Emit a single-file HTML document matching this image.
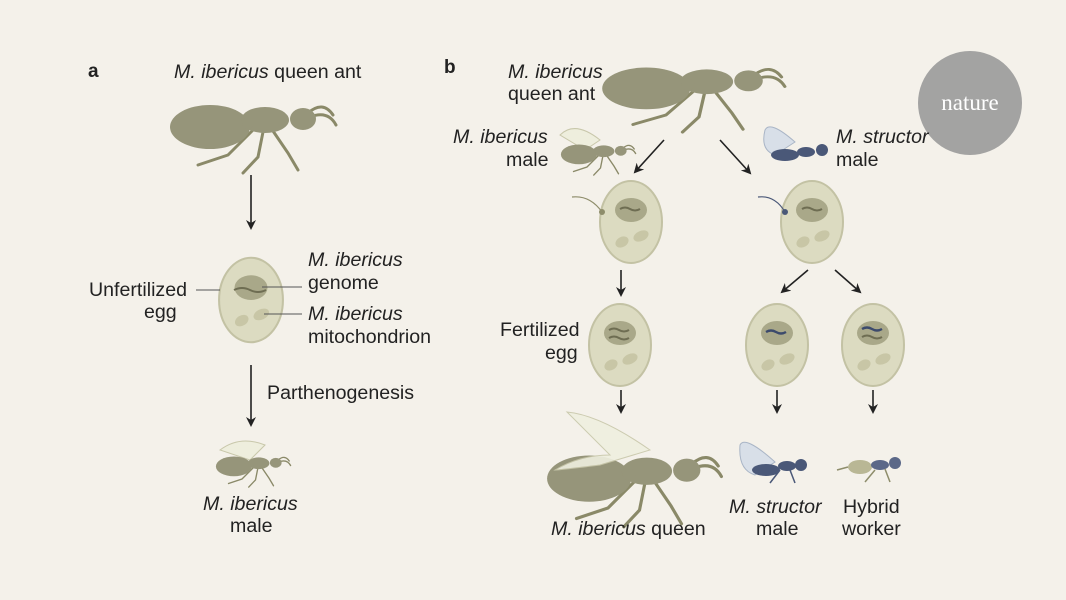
<!DOCTYPE html>
<html><head><meta charset="utf-8"><style>
html,body{margin:0;padding:0;background:#f4f1ea;}
svg{display:block;font-family:"Liberation Sans",sans-serif;}
.t{font-size:19.6px;fill:#222;}
.i{font-style:italic;}
.b{font-weight:bold;font-size:19px;fill:#222;}
</style></head><body>
<svg width="1066" height="600" viewBox="0 0 1066 600" xmlns="http://www.w3.org/2000/svg">
<defs>
<marker id="ah" markerWidth="10" markerHeight="10" refX="8" refY="5" orient="auto" markerUnits="userSpaceOnUse">
<path d="M0,0 L10,5 L0,10 L3,5 Z" fill="#222"/></marker>
<g id="ant">
 <g stroke="#8a8968" stroke-width="3" fill="none" stroke-linecap="round">
  <path d="M85,35 L60,60 L30,70"/><path d="M95,37 L90,62 L75,78"/><path d="M105,36 L120,58 L130,75"/>
  <path d="M140,18 Q155,5 165,20"/><path d="M142,22 Q160,15 168,30"/>
 </g>
 <ellipse cx="42" cy="32" rx="40" ry="22" fill="#96957a"/>
 <ellipse cx="97" cy="25" rx="24" ry="13" fill="#96957a"/>
 <ellipse cx="135" cy="24" rx="13" ry="11" fill="#96957a"/>
 <circle cx="80" cy="28" r="6" fill="#96957a"/>
</g>
<g id="egg">
 <ellipse cx="0" cy="0" rx="31" ry="41" fill="#dcdbc1" stroke="#c3c2a4" stroke-width="2"/>
 <ellipse cx="0" cy="-12" rx="16" ry="12" fill="#a9a889"/>
 <ellipse cx="-9" cy="20" rx="7" ry="5" fill="#c8c6a6" transform="rotate(-30 -9 20)"/>
 <ellipse cx="10" cy="14" rx="8" ry="5" fill="#c8c6a6" transform="rotate(-25 10 14)"/>
</g>
</defs>
<rect width="1066" height="600" fill="#f4f1ea"/>
<!-- panel a -->
<text x="88" y="77" class="b">a</text>
<text x="174" y="78" class="t"><tspan class="i">M. ibericus</tspan> queen ant</text>
<use href="#ant" transform="translate(168,95)"/>
<line x1="251" y1="175" x2="251" y2="228" stroke="#222" stroke-width="1.6" marker-end="url(#ah)"/>
<use href="#egg" transform="translate(251,300) scale(1.03)"/>
<path d="M234,290 q8,-4 16,0 q8,4 16,0" stroke="#6e6d52" stroke-width="2" fill="none"/>
<line x1="196" y1="290" x2="220" y2="290" stroke="#555" stroke-width="1"/>
<line x1="262" y1="287" x2="302" y2="287" stroke="#555" stroke-width="1"/>
<line x1="264" y1="314" x2="302" y2="314" stroke="#555" stroke-width="1"/>
<text x="89" y="296" class="t">Unfertilized</text><text x="144" y="318" class="t">egg</text>
<text x="308" y="266" class="t i">M. ibericus</text><text x="308" y="289" class="t">genome</text>
<text x="308" y="320" class="t i">M. ibericus</text><text x="308" y="343" class="t">mitochondrion</text>
<line x1="251" y1="365" x2="251" y2="425" stroke="#222" stroke-width="1.6" marker-end="url(#ah)"/>
<text x="267" y="399" class="t">Parthenogenesis</text>
<path d="M220,450 Q240,435 265,445 L250,460 Z" fill="#eeeedd" stroke="#c8c7aa"/>
<use href="#ant" transform="translate(215,452) scale(0.45)"/>
<text x="203" y="510" class="t i">M. ibericus</text><text x="230" y="532" class="t">male</text>
<!-- panel b -->
<text x="444" y="73" class="b">b</text>
<text x="508" y="78" class="t i">M. ibericus</text><text x="508" y="100" class="t">queen ant</text>
<use href="#ant" transform="translate(600,58) scale(1.1,0.95)"/>
<circle cx="970" cy="103" r="52" fill="#a3a3a2"/>
<text x="970" y="110" text-anchor="middle" font-family="Liberation Serif,serif" font-size="23" fill="#fff">nature</text>
<text x="453" y="143" class="t i">M. ibericus</text><text x="506" y="166" class="t">male</text>
<path d="M560,135 Q575,120 600,140 L585,150 Z" fill="#eeeedd" stroke="#c8c7aa"/>
<use href="#ant" transform="translate(560,140) scale(0.45)"/>
<text x="836" y="143" class="t i">M. structor</text><text x="836" y="166" class="t">male</text>
<path d="M765,130 Q770,120 795,142 L775,155 Q760,150 765,130 Z" fill="#d8dfe8" stroke="#a9b5c6"/>
<g fill="#4a5878"><ellipse cx="785" cy="155" rx="14" ry="6"/><ellipse cx="806" cy="152" rx="9" ry="5"/><circle cx="822" cy="150" r="6"/></g>
<line x1="664" y1="140" x2="635" y2="172" stroke="#222" stroke-width="1.6" marker-end="url(#ah)"/>
<line x1="720" y1="140" x2="750" y2="173" stroke="#222" stroke-width="1.6" marker-end="url(#ah)"/>
<use href="#egg" transform="translate(631,222)"/>
<path d="M572,197 Q590,195 602,212" stroke="#8e8d6b" stroke-width="1.2" fill="none"/><circle cx="602" cy="212" r="3" fill="#8e8d6b"/>
<path d="M620,209 q5,-3 10,0 q5,3 10,0" stroke="#6e6d52" stroke-width="2" fill="none"/>
<use href="#egg" transform="translate(812,222)"/>
<path d="M758,197 Q775,195 785,212" stroke="#4a5878" stroke-width="1.2" fill="none"/><circle cx="785" cy="212" r="3" fill="#4a5878"/>
<path d="M802,209 q5,-3 10,0 q5,3 10,0" stroke="#6e6d52" stroke-width="2" fill="none"/>
<line x1="621" y1="270" x2="621" y2="295" stroke="#222" stroke-width="1.6" marker-end="url(#ah)"/>
<line x1="808" y1="270" x2="782" y2="292" stroke="#222" stroke-width="1.6" marker-end="url(#ah)"/>
<line x1="835" y1="270" x2="860" y2="292" stroke="#222" stroke-width="1.6" marker-end="url(#ah)"/>
<text x="500" y="336" class="t">Fertilized</text><text x="545" y="359" class="t">egg</text>
<use href="#egg" transform="translate(620,345)"/>
<path d="M609,330 q5,-3 10,0 q5,3 10,0" stroke="#6e6d52" stroke-width="2" fill="none"/>
<path d="M609,338 q5,-3 10,0 q5,3 10,0" stroke="#6e6d52" stroke-width="2" fill="none"/>
<use href="#egg" transform="translate(777,345)"/>
<path d="M766,332 q5,-3 10,0 q5,3 10,0" stroke="#3c4a6c" stroke-width="2.4" fill="none"/>
<use href="#egg" transform="translate(873,345)"/>
<path d="M862,329 q5,-3 10,0 q5,3 10,0" stroke="#3c4a6c" stroke-width="2.4" fill="none"/>
<path d="M862,337 q5,-3 10,0 q5,3 10,0" stroke="#6e6d52" stroke-width="2" fill="none"/>
<line x1="621" y1="390" x2="621" y2="412" stroke="#222" stroke-width="1.6" marker-end="url(#ah)"/>
<line x1="777" y1="390" x2="777" y2="412" stroke="#222" stroke-width="1.6" marker-end="url(#ah)"/>
<line x1="873" y1="390" x2="873" y2="412" stroke="#222" stroke-width="1.6" marker-end="url(#ah)"/>
<use href="#ant" transform="translate(545,445) scale(1.05)"/>
<path d="M567,412 Q600,415 650,450 L600,465 Q560,470 555,470 Q580,455 610,455 Z" fill="#efefdf" stroke="#c8c7aa" opacity="0.9"/>
<path d="M740,445 Q745,435 775,462 L755,475 Q738,470 740,445 Z" fill="#d8dfe8" stroke="#a9b5c6"/>
<g fill="#4a5878"><ellipse cx="766" cy="470" rx="14" ry="6"/><ellipse cx="787" cy="466" rx="9" ry="5"/><circle cx="801" cy="465" r="6"/></g>
<g stroke="#4a5878" stroke-width="1.5"><line x1="780" y1="470" x2="770" y2="483"/><line x1="790" y1="470" x2="795" y2="483"/></g>
<ellipse cx="860" cy="467" rx="12" ry="7" fill="#b9b795"/>
<g fill="#5b6888"><ellipse cx="880" cy="465" rx="9" ry="5"/><circle cx="895" cy="463" r="6"/></g>
<g stroke="#8e8d6b" stroke-width="1.5"><line x1="875" y1="470" x2="865" y2="482"/><line x1="885" y1="469" x2="890" y2="482"/><line x1="848" y1="467" x2="837" y2="470"/></g>
<text x="551" y="535" class="t"><tspan class="i">M. ibericus</tspan> queen</text>
<text x="729" y="513" class="t i">M. structor</text><text x="756" y="535" class="t">male</text>
<text x="843" y="513" class="t">Hybrid</text><text x="842" y="535" class="t">worker</text>
</svg>
</body></html>
